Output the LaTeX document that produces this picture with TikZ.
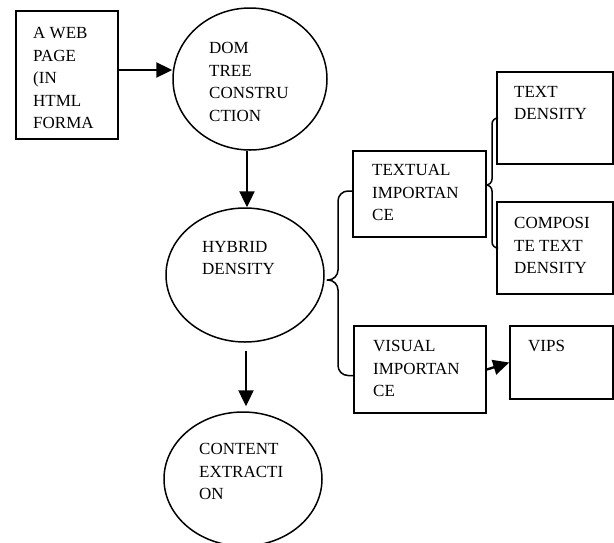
\documentclass[tikz,border=0pt]{standalone}
\usepackage{fontspec}
\setmainfont{Liberation Serif}
\usetikzlibrary{shapes.geometric,arrows.meta,calc,positioning}

\begin{document}
\begin{tikzpicture}[x=1pt,y=-1pt,
		box/.style={draw,line width=1.6pt,rectangle,inner sep=0pt},
		oval/.style={draw,line width=1.5pt,ellipse,inner sep=0pt,minimum width=158pt,minimum height=134pt},
		txt/.style={anchor=north west,inner sep=0pt,align=left,font=\fontsize{17}{22.6}\selectfont},
		flow/.style={line width=2.4pt,-{Triangle[length=16pt,width=15pt]}},
		brace/.style={line width=1.5pt,rounded corners=10pt}]
	
	\useasboundingbox (0,0) rectangle (614,542);
	
	% shapes
	\node[box,minimum width=102pt,minimum height=128pt] (web) at (67,75) {};
	\node[oval,minimum width=154pt,minimum height=142pt] (dom) at (250,79) {};
	\node[oval] (hybrid) at (245,275) {};
	\node[oval] (content) at (243,479) {};
	
	\node[box,minimum width=133pt,minimum height=86pt] (textual) at (419.5,194) {};
	\node[box,minimum width=132pt,minimum height=87pt] (visual) at (420,369.5) {};
	\node[box,minimum width=116pt,minimum height=92pt] (tdens) at (555,118) {};
	\node[box,minimum width=116pt,minimum height=92pt] (ctdens) at (555,248) {};
	\node[box,minimum width=103pt,minimum height=73pt] (vips) at (561.5,362.5) {};
	
	% texts
	\node[txt] (webtxt) at (33,27) {A WEB\\PAGE\\(IN\\HTML\\FORMA};
	\node[txt] (domtxt) at (209,42) {DOM\\TREE\\CONSTRU\\CTION};
	\node[txt] (hybtxt) at (202,241) {HYBRID\\DENSITY};
	\node[txt] (contxt) at (199,443) {CONTENT\\EXTRACTI\\ON};
	\node[txt] (textxt) at (372,164) {TEXTUAL\\IMPORTAN\\CE};
	\node[txt] (vistxt) at (373,340) {VISUAL\\IMPORTAN\\CE};
	\node[txt] (tdtxt) at (514,86) {TEXT\\DENSITY};
	\node[txt] (ctdtxt) at (514,217) {COMPOSI\\TE TEXT\\DENSITY};
	\node[txt] (vipstxt) at (528,340) {VIPS};
	
	% arrows
	\draw[flow] (web.east |- 0,70) -- (dom.west |- 0,70);
	\draw[flow] (dom.south -| 247,0) -- (hybrid.north -| 247,0);
	\draw[flow] ($(hybrid.south)+(1,8)$) -- ($(content.north)+(3,-5)$);
	\draw[flow] (visual.east) -- (vips.west);
	
	% braces
	\coordinate (tip1) at ($(hybrid.east)+(2,5)$);
	\coordinate (tip2) at ($(textual.east)+(0,-9)$);
	\draw[brace] ([yshift=3pt]textual.west) -| (tip1 -| 338,0) -- (tip1);
	\draw[brace] (tip1) -- (tip1 -| 338,0) |- ([yshift=-6pt]visual.west);
	\draw[brace,rounded corners=6pt] (tdens.west) -| (tip2 -| 492,0) -- (tip2);
	\draw[brace,rounded corners=6pt] (tip2) -- (tip2 -| 492,0) |- (ctdens.west);
	
\end{tikzpicture}
\end{document}
